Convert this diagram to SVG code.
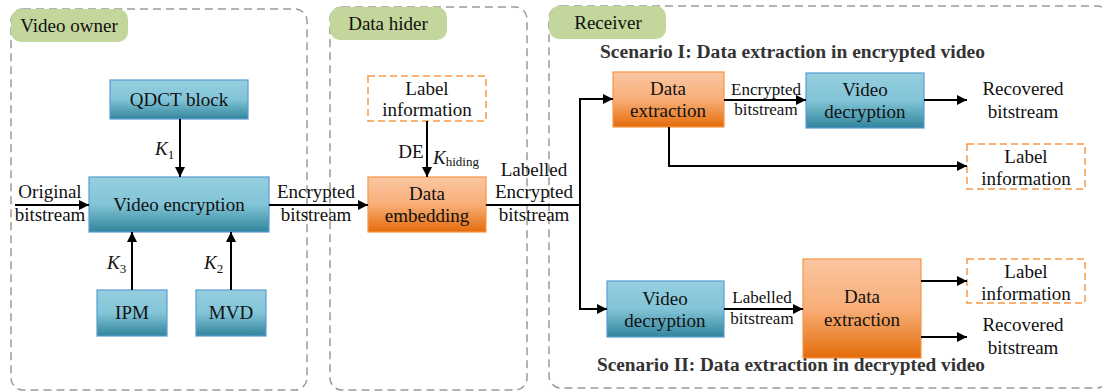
<svg xmlns="http://www.w3.org/2000/svg" width="1102" height="392" viewBox="0 0 1102 392" font-family="'Liberation Serif', 'Times New Roman', serif">
<defs>
<linearGradient id="gb" x1="0" y1="0" x2="0" y2="1">
<stop offset="0" stop-color="#95cfde"/><stop offset="0.5" stop-color="#82c4d7"/><stop offset="1" stop-color="#31859c"/>
</linearGradient>
<linearGradient id="go" x1="0" y1="0" x2="0" y2="1">
<stop offset="0" stop-color="#fac6a2"/><stop offset="0.5" stop-color="#f8ae78"/><stop offset="1" stop-color="#e46c0a"/>
</linearGradient>
<marker id="ah" viewBox="0 0 10 10" refX="10" refY="5" markerWidth="10" markerHeight="10" markerUnits="userSpaceOnUse" orient="auto">
<path d="M0,0 L10,5 L0,10 z" fill="#000"/>
</marker>
<style>
.panel{fill:none;stroke:#9a9a9a;stroke-width:1.5;stroke-dasharray:8,5}
.tab{fill:#c3d69b}
.blue{fill:url(#gb);stroke:#5b9bd5;stroke-width:1.2}
.orange{fill:url(#go);stroke:#f79646;stroke-width:1.2}
.info{fill:#fff;stroke:#f79646;stroke-width:1.5;stroke-dasharray:7,4}
text{font-family:'Liberation Serif','Times New Roman',serif}
.t{font-size:19px;fill:#111;text-anchor:middle}
.s{font-size:17px;fill:#111;text-anchor:middle}
.b{font-size:18px;font-weight:bold;fill:#333}
.k{font-size:19px;font-style:italic;fill:#111}
.ln{fill:none;stroke:#000;stroke-width:2}
</style>
</defs>
<rect width="1102" height="392" fill="#fff"/>

<g id="panel-owner">
<rect class="panel" x="11" y="9" width="296" height="381" rx="12"/>
<rect class="tab" x="11" y="9" width="117" height="33" rx="10"/>
<text class="t" x="69" y="32">Video owner</text>
</g>
<g id="panel-hider">
<rect class="panel" x="330" y="7" width="197" height="383" rx="12"/>
<rect class="tab" x="330" y="7" width="117" height="33" rx="10"/>
<text class="t" x="388" y="30">Data hider</text>
</g>
<g id="panel-receiver">
<rect class="panel" x="549" y="6" width="560" height="382" rx="12"/>
<rect class="tab" x="549" y="6" width="117" height="33" rx="10"/>
<text class="t" x="608" y="29">Receiver</text>
</g>

<g id="qdct"><rect class="blue" x="110" y="80" width="138" height="39"/><text class="t" x="179" y="106">QDCT block</text></g>
<g id="video-encryption"><rect class="blue" x="89" y="177" width="180" height="55"/><text class="t" x="179" y="211">Video encryption</text></g>
<g id="ipm"><rect class="blue" x="97" y="290" width="70" height="46"/><text class="t" x="132" y="319">IPM</text></g>
<g id="mvd"><rect class="blue" x="196" y="290" width="70" height="46"/><text class="t" x="231" y="319">MVD</text></g>

<g id="label-info-hider"><rect class="info" x="368" y="76" width="118" height="45"/><text class="t" x="427" y="95">Label</text><text class="t" x="427" y="116">information</text></g>
<g id="data-embedding"><rect class="orange" x="368" y="177" width="118" height="55"/><text class="t" x="427" y="200">Data</text><text class="t" x="427" y="222">embedding</text></g>

<g id="data-extraction-1"><rect class="orange" x="613" y="72" width="111" height="55"/><text class="t" x="668" y="95">Data</text><text class="t" x="668" y="117">extraction</text></g>
<g id="video-decryption-1"><rect class="blue" x="806" y="73" width="118" height="55"/><text class="t" x="865" y="96">Video</text><text class="t" x="865" y="118">decryption</text></g>
<g id="recovered-1"><text class="t" x="1023" y="95">Recovered</text><text class="t" x="1023" y="118">bitstream</text></g>
<g id="label-info-1"><rect class="info" x="967" y="144" width="118" height="45"/><text class="t" x="1026" y="163">Label</text><text class="t" x="1026" y="185">information</text></g>

<g id="video-decryption-2"><rect class="blue" x="607" y="281" width="117" height="56"/><text class="t" x="665" y="305">Video</text><text class="t" x="665" y="327">decryption</text></g>
<g id="data-extraction-2"><rect class="orange" x="803" y="259" width="118" height="99"/><text class="t" x="862" y="303">Data</text><text class="t" x="862" y="326">extraction</text></g>
<g id="label-info-2"><rect class="info" x="967" y="259" width="118" height="44"/><text class="t" x="1026" y="278">Label</text><text class="t" x="1026" y="300">information</text></g>
<g id="recovered-2"><text class="t" x="1023" y="331">Recovered</text><text class="t" x="1023" y="354">bitstream</text></g>

<g id="scenarios">
<text class="b" x="600" y="58" textLength="385" lengthAdjust="spacingAndGlyphs">Scenario I: Data extraction in encrypted video</text>
<text class="b" x="597" y="371" textLength="388" lengthAdjust="spacingAndGlyphs">Scenario II: Data extraction in decrypted video</text>
</g>

<g id="connectors">
<path class="ln" d="M180,119 V177" marker-end="url(#ah)"/>
<path class="ln" d="M132,290 V232" marker-end="url(#ah)"/>
<path class="ln" d="M231,290 V232" marker-end="url(#ah)"/>
<path class="ln" d="M15,205 H89" marker-end="url(#ah)"/>
<path class="ln" d="M269,205 H368" marker-end="url(#ah)"/>
<path class="ln" d="M427,121 V177" marker-end="url(#ah)"/>
<path class="ln" d="M486,205 H580"/>
<path class="ln" d="M580,309 V99 H613" marker-end="url(#ah)"/>
<path class="ln" d="M580,200 V309 H607" marker-end="url(#ah)"/>
<path class="ln" d="M724,100 H806" marker-end="url(#ah)"/>
<path class="ln" d="M924,100 H967" marker-end="url(#ah)"/>
<path class="ln" d="M669,127 V166 H967" marker-end="url(#ah)"/>
<path class="ln" d="M724,309 H803" marker-end="url(#ah)"/>
<path class="ln" d="M921,281 H967" marker-end="url(#ah)"/>
<path class="ln" d="M921,337 H967" marker-end="url(#ah)"/>
</g>

<g id="connector-labels">
<text class="k" x="155" y="155">K<tspan font-style="normal" font-size="13" dy="4">1</tspan></text>
<text class="k" x="107" y="269">K<tspan font-style="normal" font-size="13" dy="4">3</tspan></text>
<text class="k" x="204" y="269">K<tspan font-style="normal" font-size="13" dy="4">2</tspan></text>
<text class="t" x="50" y="198">Original</text>
<text class="t" x="50" y="221">bitstream</text>
<text class="t" x="316" y="198">Encrypted</text>
<text class="t" x="316" y="221">bitstream</text>
<text class="t" x="411" y="158">DE</text>
<text class="k" x="433" y="164">K<tspan font-style="normal" font-size="13" dy="2">hiding</tspan></text>
<text class="t" x="534" y="176">Labelled</text>
<text class="t" x="534" y="198">Encrypted</text>
<text class="t" x="534" y="221">bitstream</text>
<text class="s" x="766" y="95">Encrypted</text>
<text class="s" x="766" y="115">bitstream</text>
<text class="s" x="762" y="303">Labelled</text>
<text class="s" x="762" y="324">bitstream</text>
</g>
</svg>
